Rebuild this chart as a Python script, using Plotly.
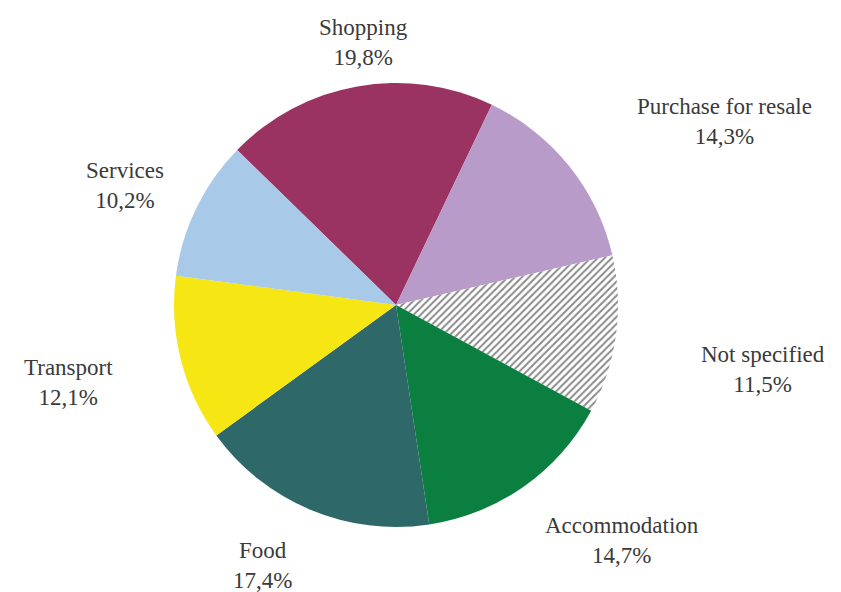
import plotly.graph_objects as go

categories = ["Shopping", "Purchase for resale", "Not specified", "Accommodation",
              "Food", "Transport", "Services"]
values = [19.8, 14.3, 11.5, 14.7, 17.4, 12.1, 10.2]
value_labels = ["19,8%", "14,3%", "11,5%", "14,7%", "17,4%", "12,1%", "10,2%"]
colors = ["#9A3262", "#B89BC9", "#FFFFFF", "#0A7F3F", "#2F6868", "#F5E614", "#A9C9E9"]

# label positions (paper px from top-left) – layout only
label_pos = {
    "Shopping": (363, 43),
    "Purchase for resale": (724, 121),
    "Not specified": (763, 369),
    "Accommodation": (622, 540),
    "Food": (262, 565),
    "Transport": (68, 382),
    "Services": (125, 185),
}

W, H = 841, 592
cx, cy, r = 396, 305, 222

patterns = [""] * len(categories)
patterns[2] = "/"

fig = go.Figure(go.Pie(
    labels=categories,
    values=values,
    sort=False,
    direction="clockwise",
    rotation=-45.7,
    marker=dict(colors=colors, line=dict(width=0),
                pattern=dict(shape=patterns, fgcolor="#8A8A8A", bgcolor="#FFFFFF",
                             size=5, solidity=0.4)),
    textinfo="none",
    hoverinfo="label+percent",
    showlegend=False,
    domain=dict(x=[(cx - r) / W, (cx + r) / W], y=[(H - cy - r) / H, (H - cy + r) / H]),
))

for cat, vl in zip(categories, value_labels):
    px, py = label_pos[cat]
    fig.add_annotation(x=px / W, y=1 - py / H, xref="paper", yref="paper",
                       text=f"{cat}<br>{vl}", showarrow=False,
                       xanchor="center", yanchor="middle", align="center",
                       font=dict(family="Liberation Serif, Times New Roman, serif",
                                 size=23, color="#3A3A3A"))

fig.update_layout(width=W, height=H, margin=dict(l=0, r=0, t=0, b=0),
                  paper_bgcolor="white", plot_bgcolor="white")
fig.write_html("out.html", config={"displayModeBar": False},
               post_script="document.body.style.margin='0';document.body.style.overflow='hidden';")
